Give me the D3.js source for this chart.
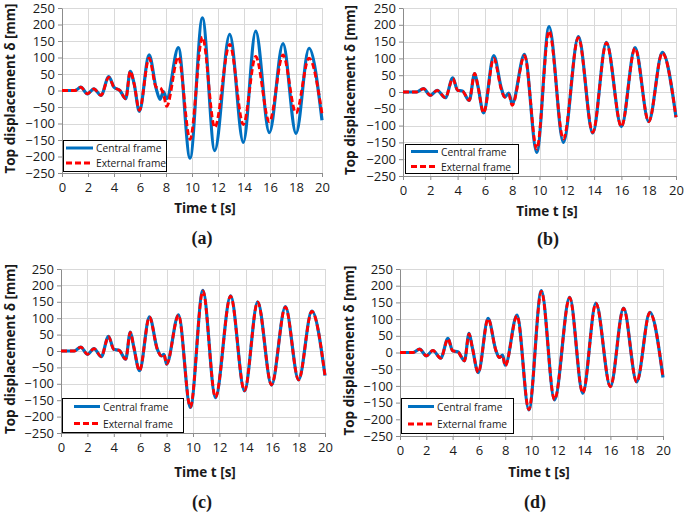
<!DOCTYPE html>
<html>
<head>
<meta charset="utf-8">
<script src="https://cdn.jsdelivr.net/npm/d3@7"></script>
<style>
  body { margin: 0; background: #fff; }
  svg text { font-family: "Open Sans", sans-serif; fill: #1a1a1a; }
  .axis text { font-size: 13px; }
  .axis path, .axis line { stroke: #8c8c8c; }
  .grid line { stroke: #d9d9d9; stroke-width: 1; }
  .ytitle, .xtitle { font-weight: bold; font-size: 13.5px; }
  .caption { font-family: "Liberation Serif", "DejaVu Serif", serif !important; font-weight: bold; font-size: 18px; }
  .legend text { font-size: 10.2px; }
</style>
</head>
<body>
<svg id="fig" width="685" height="512"></svg>
<script>
/* ticks */
var timeTicks = [0, 2, 4, 6, 8, 10, 12, 14, 16, 18, 20];
var dispTicks = [-250, -200, -150, -100, -50, 0, 50, 100, 150, 200, 250];
var seriesNames = ["Central frame", "External frame"];

/* (a) */
var timeA     = [0, 1.0, 1.45, 1.95, 2.45, 3.0, 3.6, 4.0, 4.45, 4.9, 5.25, 5.55, 5.95, 6.7, 7.25, 7.55, 7.8, 8.05, 8.95, 9.85, 10.8, 11.75, 12.9, 13.95, 14.9, 15.95, 17.0, 18.0, 19.0, 20.0];
var centralA  = [0, 0, 10, -10, 5, -15, 42, 10, 0, -25, 58, 20, -63, 108, 5, -27, -3, -25, 130, -205, 220, -182, 170, -157, 180, -128, 142, -130, 128, -90];
var externalA = [0, 0, 10, -10, 5, -15, 40, 10, 0, -25, 58, 20, -60, 98, 10, 8, -10, -48, 102, -148, 162, -112, 140, -103, 103, -95, 108, -68, 98, -70];

/* (b) */
var timeB     = [0, 1.0, 1.5, 2.0, 2.5, 3.1, 3.65, 4.0, 4.35, 4.85, 5.25, 5.5, 5.9, 6.65, 7.2, 7.45, 7.75, 8.0, 8.9, 9.8, 10.7, 11.75, 12.85, 13.9, 14.9, 16.0, 17.0, 18.0, 19.0, 20.0];
var centralB  = [0, 0, 10, -10, 5, -17, 42, 5, 3, -25, 55, 15, -62, 108, 12, -15, -3, -35, 112, -180, 195, -150, 165, -122, 148, -103, 132, -88, 118, -75];
var externalB = [0, 0, 10, -10, 5, -17, 40, 5, 3, -25, 55, 15, -62, 100, 8, -15, -8, -40, 108, -170, 182, -140, 162, -120, 146, -103, 130, -88, 116, -75];

/* (c) */
var timeC     = [0, 1.0, 1.5, 2.0, 2.5, 3.05, 3.6, 4.0, 4.4, 4.9, 5.25, 5.5, 5.95, 6.7, 7.3, 7.6, 7.8, 8.0, 8.9, 9.8, 10.75, 11.7, 12.85, 13.9, 14.9, 15.95, 17.0, 18.0, 19.0, 20.0];
var centralC  = [0, 0, 12, -10, 7, -17, 45, 5, 2, -25, 58, 15, -60, 104, 5, -15, -10, -40, 110, -172, 185, -142, 168, -122, 150, -104, 135, -88, 122, -75];
var externalC = [0, 0, 12, -10, 7, -17, 44, 5, 2, -25, 57, 15, -60, 103, 5, -15, -10, -40, 109, -171, 183, -141, 167, -121, 149, -103, 134, -88, 121, -75];

/* (d) */
var timeD     = [0, 1.0, 1.5, 2.0, 2.5, 3.1, 3.65, 4.0, 4.4, 4.9, 5.25, 5.5, 5.95, 6.7, 7.3, 7.55, 7.8, 8.0, 8.9, 9.8, 10.75, 11.75, 12.9, 13.9, 14.9, 16.0, 17.0, 18.0, 19.0, 20.0];
var centralD  = [0, 0, 10, -10, 6, -17, 42, 5, 2, -25, 57, 15, -60, 102, 5, -15, -8, -38, 112, -172, 185, -142, 165, -122, 148, -102, 133, -88, 120, -75];
var externalD = [0, 0, 10, -10, 6, -17, 41, 5, 2, -25, 56, 15, -60, 101, 5, -15, -10, -40, 110, -171, 183, -141, 164, -121, 147, -102, 132, -88, 119, -75];

/* panel layout (pixels) */
var panels = [
  { cap: "(a)", t: timeA, c: centralA, e: externalA,
    left: 62, right: 322, top: 8, bottom: 173,
    yTitleX: 10, xTitleX: 205, xTitleY: 208, capX: 202, capY: 238,
    leg: { x: 63, y: 140, w: 103, h: 31, r1: 148, r2: 163, lx: 66, lw: 27 } },
  { cap: "(b)", t: timeB, c: centralB, e: externalB,
    left: 403, right: 676, top: 8, bottom: 176,
    yTitleX: 350, xTitleX: 547, xTitleY: 211, capX: 548, capY: 239,
    leg: { x: 405, y: 144, w: 113, h: 29, r1: 151.5, r2: 166.5, lx: 411, lw: 27 } },
  { cap: "(c)", t: timeC, c: centralC, e: externalC,
    left: 61, right: 325, top: 269, bottom: 433,
    yTitleX: 10, xTitleX: 205, xTitleY: 472, capX: 202, capY: 502,
    leg: { x: 62, y: 398, w: 121, h: 34, r1: 406.5, r2: 423.5, lx: 74, lw: 26 } },
  { cap: "(d)", t: timeD, c: centralD, e: externalD,
    left: 400, right: 663, top: 269, bottom: 436,
    yTitleX: 349, xTitleX: 539, xTitleY: 472, capX: 535, capY: 502,
    leg: { x: 401, y: 398, w: 112, h: 35, r1: 406.5, r2: 424, lx: 408, lw: 26 } }
];

var blue = "#0070c0", red = "#ff0000";
var svg = d3.select("#fig");

panels.forEach(function (p) {
  var x = d3.scaleLinear().domain([0, 20]).range([p.left, p.right]);
  var y = d3.scaleLinear().domain([-250, 250]).range([p.bottom, p.top]);
  var g = svg.append("g");

  /* grid */
  var grid = g.append("g").attr("class", "grid");
  grid.selectAll(".h").data(dispTicks).enter().append("line")
    .attr("x1", p.left).attr("x2", p.right)
    .attr("y1", function (d) { return Math.round(y(d)) + 0.5; })
    .attr("y2", function (d) { return Math.round(y(d)) + 0.5; });
  grid.selectAll(".v").data(timeTicks).enter().append("line")
    .attr("y1", p.top).attr("y2", p.bottom)
    .attr("x1", function (d) { return Math.round(x(d)) + 0.5; })
    .attr("x2", function (d) { return Math.round(x(d)) + 0.5; });

  /* axes */
  g.append("g").attr("class", "axis")
    .attr("transform", "translate(0," + p.bottom + ")")
    .call(d3.axisBottom(x).tickValues(timeTicks).tickSize(4).tickSizeOuter(0).tickPadding(6));
  g.append("g").attr("class", "axis")
    .attr("transform", "translate(" + p.left + ",0)")
    .call(d3.axisLeft(y).tickValues(dispTicks).tickSize(4).tickSizeOuter(0).tickPadding(3));

  /* series */
  var line = d3.line().curve(d3.curveMonotoneX)
    .x(function (d) { return x(d[0]); })
    .y(function (d) { return y(d[1]); });
  g.append("path").datum(d3.zip(p.t, p.c))
    .attr("d", line).attr("fill", "none")
    .attr("stroke", blue).attr("stroke-width", 3.2).attr("stroke-linejoin", "round");
  g.append("path").datum(d3.zip(p.t, p.e))
    .attr("d", line).attr("fill", "none")
    .attr("stroke", red).attr("stroke-width", 2.8).attr("stroke-dasharray", "6,3");

  /* titles */
  g.append("text").attr("class", "ytitle")
    .attr("transform", "translate(" + p.yTitleX + "," + ((p.top + p.bottom) / 2 - 2) + ") rotate(-90)")
    .attr("text-anchor", "middle").attr("dominant-baseline", "central")
    .text("Top displacement δ [mm]");
  g.append("text").attr("class", "xtitle")
    .attr("x", p.xTitleX).attr("y", p.xTitleY)
    .attr("text-anchor", "middle").attr("dominant-baseline", "central")
    .text("Time t [s]");
  g.append("text").attr("class", "caption")
    .attr("x", p.capX).attr("y", p.capY)
    .attr("text-anchor", "middle").attr("dominant-baseline", "central")
    .text(p.cap);

  /* legend */
  var L = p.leg;
  var lg = g.append("g").attr("class", "legend");
  lg.append("rect").attr("x", L.x + 0.5).attr("y", L.y + 0.5)
    .attr("width", L.w).attr("height", L.h)
    .attr("fill", "#fff").attr("stroke", "#000").attr("stroke-width", 1);
  [[L.r1, blue, null, 3], [L.r2, red, "6,3", 2.8]].forEach(function (r, i) {
    lg.append("line").attr("x1", L.lx).attr("x2", L.lx + L.lw)
      .attr("y1", r[0]).attr("y2", r[0])
      .attr("stroke", r[1]).attr("stroke-width", r[3])
      .attr("stroke-dasharray", r[2]);
    lg.append("text").attr("x", L.lx + L.lw + 3).attr("y", r[0])
      .attr("dominant-baseline", "central").text(seriesNames[i]);
  });
});
</script>
</body>
</html>
